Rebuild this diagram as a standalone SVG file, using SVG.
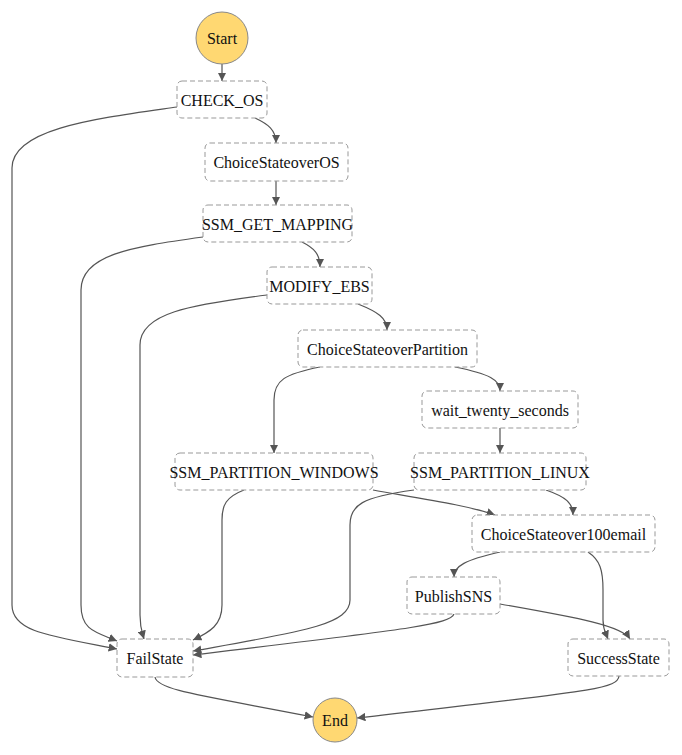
<svg xmlns="http://www.w3.org/2000/svg" width="682" height="755" viewBox="0 0 682 755">
<style>
.n rect{fill:#fff;stroke:#999;stroke-width:1;stroke-dasharray:5,3}
.n circle{fill:#ffd872;stroke:#888;stroke-width:1}
.n text{font-family:"Liberation Serif","Times New Roman",serif;font-size:16px;fill:#111;text-anchor:middle;dominant-baseline:central}
.e path{fill:none;stroke:#555;stroke-width:1.2;marker-end:url(#ah)}
</style>
<defs>
<marker id="ah" viewBox="0 0 10 10" refX="10" refY="5" markerWidth="7" markerHeight="7" markerUnits="strokeWidth" orient="auto">
<path d="M0,0 L10,5 L0,10 z" fill="#555"/>
</marker>
</defs>
<g class="e" id="edges">
<path d="M222,64 L222,81"/>
<path d="M255,118 C268,124 276,130 276,143"/>
<path d="M177,107 C100,118 12,128 12,168 L12,605 C12,632 50,636 117,649"/>
<path d="M276,181 L276,205"/>
<path d="M302,242 C314,248 320,254 320,267"/>
<path d="M203,237 C130,247 81,255 81,290 L81,605 C81,630 95,632 117,641"/>
<path d="M358,304 C378,312 387,318 387,330"/>
<path d="M267,295 C190,305 140,313 140,345 L140,615 C140,628 142,632 144,639"/>
<path d="M320,367 C285,374 274,380 274,400 L274,453"/>
<path d="M455,367 C490,374 500,380 500,391"/>
<path d="M500,428 L500,453"/>
<path d="M244,490 C226,497 222,505 222,520 L222,605 C222,625 210,632 193,640"/>
<path d="M373,490 C430,500 470,506 495,515"/>
<path d="M414,490 C362,497 350,505 350,525 L350,600 C350,625 300,632 193,651"/>
<path d="M546,490 C566,497 573,503 573,515"/>
<path d="M500,552 C465,560 454,566 454,577"/>
<path d="M588,552 C600,560 603,570 603,590 L603,620 C603,630 606,634 608,639"/>
<path d="M500,604 C580,618 622,626 630,639"/>
<path d="M454,614 C450,625 400,630 193,655"/>
<path d="M155,677 C157,690 200,695 313,717"/>
<path d="M619,676 C618,690 580,692 357,718"/>
</g>
<g class="n" id="Start"><circle cx="222" cy="38" r="26"/><text x="222" y="38">Start</text></g>
<g class="n" id="CHECK_OS"><rect x="177" y="81" width="90" height="37" rx="5"/><text x="222" y="100">CHECK_OS</text></g>
<g class="n" id="ChoiceStateoverOS"><rect x="205" y="143" width="143" height="38" rx="5"/><text x="276.5" y="162">ChoiceStateoverOS</text></g>
<g class="n" id="SSM_GET_MAPPING"><rect x="203" y="205" width="149" height="37" rx="5"/><text x="277.5" y="224">SSM_GET_MAPPING</text></g>
<g class="n" id="MODIFY_EBS"><rect x="267" y="267" width="105" height="37" rx="5"/><text x="319.5" y="286">MODIFY_EBS</text></g>
<g class="n" id="ChoiceStateoverPartition"><rect x="298" y="330" width="179" height="37" rx="5"/><text x="387.5" y="349">ChoiceStateoverPartition</text></g>
<g class="n" id="wait_twenty_seconds"><rect x="422" y="391" width="156" height="37" rx="5"/><text x="500" y="410">wait_twenty_seconds</text></g>
<g class="n" id="SSM_PARTITION_WINDOWS"><rect x="175" y="453" width="198" height="37" rx="5"/><text x="274" y="472">SSM_PARTITION_WINDOWS</text></g>
<g class="n" id="SSM_PARTITION_LINUX"><rect x="414" y="453" width="172" height="37" rx="5"/><text x="500" y="472">SSM_PARTITION_LINUX</text></g>
<g class="n" id="ChoiceStateover100email"><rect x="472" y="515" width="183" height="37" rx="5"/><text x="563.5" y="534">ChoiceStateover100email</text></g>
<g class="n" id="PublishSNS"><rect x="407" y="577" width="93" height="37" rx="5"/><text x="453.5" y="596">PublishSNS</text></g>
<g class="n" id="SuccessState"><rect x="568" y="639" width="101" height="37" rx="5"/><text x="618.5" y="658">SuccessState</text></g>
<g class="n" id="FailState"><rect x="117" y="639" width="76" height="38" rx="5"/><text x="155" y="658">FailState</text></g>
<g class="n" id="End"><circle cx="335" cy="720" r="22"/><text x="335" y="720">End</text></g>
</svg>
